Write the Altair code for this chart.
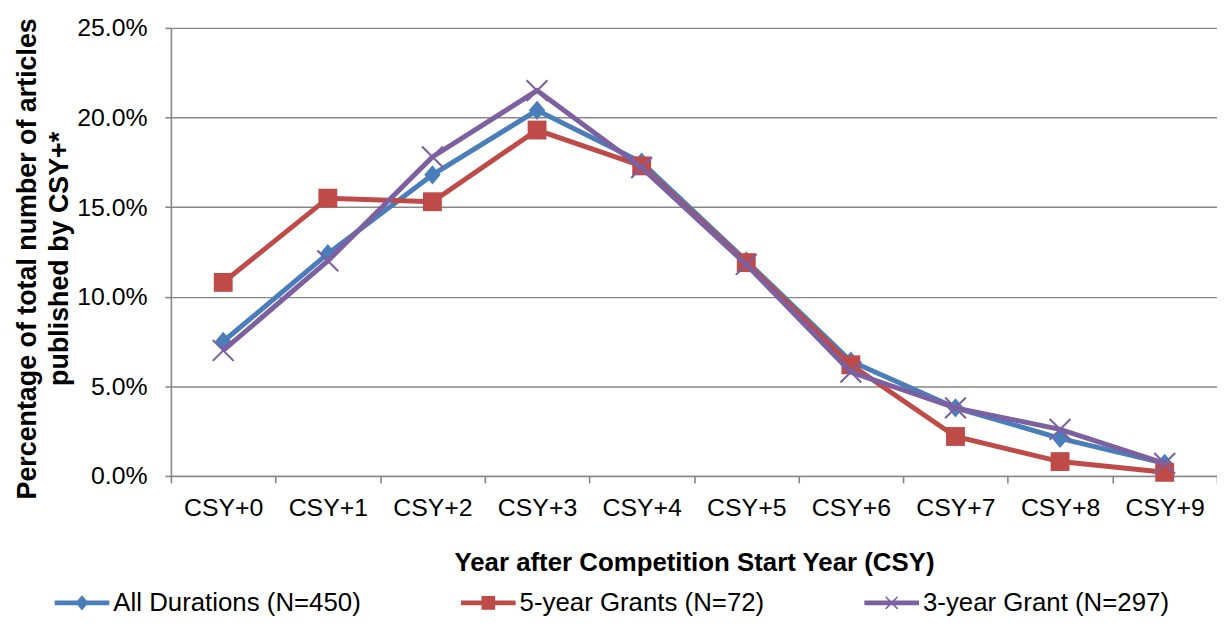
import altair as alt
import pandas as pd

# ---- data (percent of total articles) ----
categories = ["CSY+0", "CSY+1", "CSY+2", "CSY+3", "CSY+4",
              "CSY+5", "CSY+6", "CSY+7", "CSY+8", "CSY+9"]
all_durations = [7.5, 12.4, 16.8, 20.4, 17.5, 12.0, 6.4, 3.8, 2.1, 0.7]
five_year = [10.8, 15.5, 15.3, 19.3, 17.3, 11.9, 6.2, 2.2, 0.8, 0.2]
three_year = [7.0, 12.0, 17.8, 21.5, 17.2, 11.8, 5.8, 3.8, 2.6, 0.7]
series_names = ["All Durations (N=450)", "5-year Grants (N=72)", "3-year Grant (N=297)"]
y_ticks = [0.0, 0.05, 0.10, 0.15, 0.20, 0.25]

# ---- styles ----
series_colors = ["#4A7EBB", "#BE4B48", "#7D60A0"]
FONT = "Liberation Sans"
GRAY = "#878787"


def x_path(a, d):
    p1 = f"M{-a + d},{-a - d}L{a + d},{a - d}L{a - d},{a + d}L{-a - d},{-a + d}Z"
    p2 = f"M{-a + d},{a + d}L{-a - d},{a - d}L{a - d},{-a - d}L{a + d},{-a + d}Z"
    return p1 + p2


diamond_mark = "M0,-1L0.85,0L0,1L-0.85,0Z"
square_mark = "M-1,-1L1,-1L1,1L-1,1Z"
x_mark = x_path(1, 0.07)
mark_shapes = [diamond_mark, square_mark, x_mark]
mark_sizes = [380, 360, 440]

leg_line = "M-1,-0.09L1,-0.09L1,0.09L-1,0.09Z"
legend_shapes = [
    leg_line + "M0,-0.28L0.24,0L0,0.28L-0.24,0Z",
    leg_line + "M-0.25,-0.25L0.25,-0.25L0.25,0.25L-0.25,0.25Z",
    leg_line + x_path(0.22, 0.02),
]

rows = []
for name, vals in zip(series_names, [all_durations, five_year, three_year]):
    for c, v in zip(categories, vals):
        rows.append({"Year": c, "Series": name, "Value": v / 100.0})
df = pd.DataFrame(rows)

x_enc = alt.X(
    "Year:N",
    sort=categories,
    scale=alt.Scale(type="band", domain=categories, paddingInner=0, paddingOuter=0),
    axis=alt.Axis(
        title="Year after Competition Start Year (CSY)",
        labelAngle=0,
        tickBand="extent",
        tickSize=7,
        labelPadding=13,
        titlePadding=29,
        labelFontSize=25,
        titleFontSize=26,
    ),
)
y_enc = alt.Y(
    "Value:Q",
    scale=alt.Scale(domain=[0, 0.25], nice=False, zero=True),
    axis=alt.Axis(
        title=["Percentage of total number of articles", "published by CSY+*"],
        values=y_ticks,
        format=".1%",
        grid=True,
        tickSize=6,
        labelPadding=18,
        titlePadding=3,
        titleY=232,
        labelFontSize=25,
        titleFontSize=27,
        titleLineHeight=32,
    ),
)

layers = []
for name, col, shp, sz in zip(series_names, series_colors, mark_shapes, mark_sizes):
    base = alt.Chart(df).transform_filter(alt.datum.Series == name)
    layers.append(base.mark_line(color=col, strokeWidth=5).encode(x=x_enc, y=y_enc))
    layers.append(
        base.mark_point(shape=shp, filled=True, color=col, size=sz, opacity=1).encode(x=x_enc, y=y_enc)
    )

legend_props = dict(
    title=None,
    orient="none",
    direction="horizontal",
    legendX=-117,
    legendY=551,
    symbolSize=3025,
    symbolStrokeWidth=0,
    labelFontSize=26,
    labelFont=FONT,
    labelColor="#000000",
    labelOffset=4,
    labelLimit=0,
    columnPadding=100,
    padding=0,
)

legend_layer = (
    alt.Chart(df)
    .transform_filter("false")
    .mark_point(filled=True, opacity=1)
    .encode(
        color=alt.Color(
            "Series:N",
            scale=alt.Scale(domain=series_names, range=series_colors),
            legend=alt.Legend(**legend_props),
        ),
        shape=alt.Shape(
            "Series:N",
            scale=alt.Scale(domain=series_names, range=legend_shapes),
            legend=alt.Legend(**legend_props),
        ),
    )
)

chart = (
    alt.layer(*layers, legend_layer)
    .properties(
        width=1053,
        height=451,
        padding={"left": 164, "top": 18, "right": 0, "bottom": 142},
        autosize=alt.AutoSizeParams(type="none"),
        background="white",
    )
    .configure_view(stroke=None)
    .configure_axis(
        labelFont=FONT,
        titleFont=FONT,
        labelColor="#000000",
        titleColor="#000000",
        titleFontWeight="bold",
        domainColor=GRAY,
        domainWidth=1.6,
        tickColor=GRAY,
        tickWidth=1.6,
        gridColor=GRAY,
        gridWidth=1.4,
        gridOpacity=1,
    )
    .configure_axisX(grid=False)
)

chart.save("out.html", embed_options={"renderer": "svg", "actions": False})
